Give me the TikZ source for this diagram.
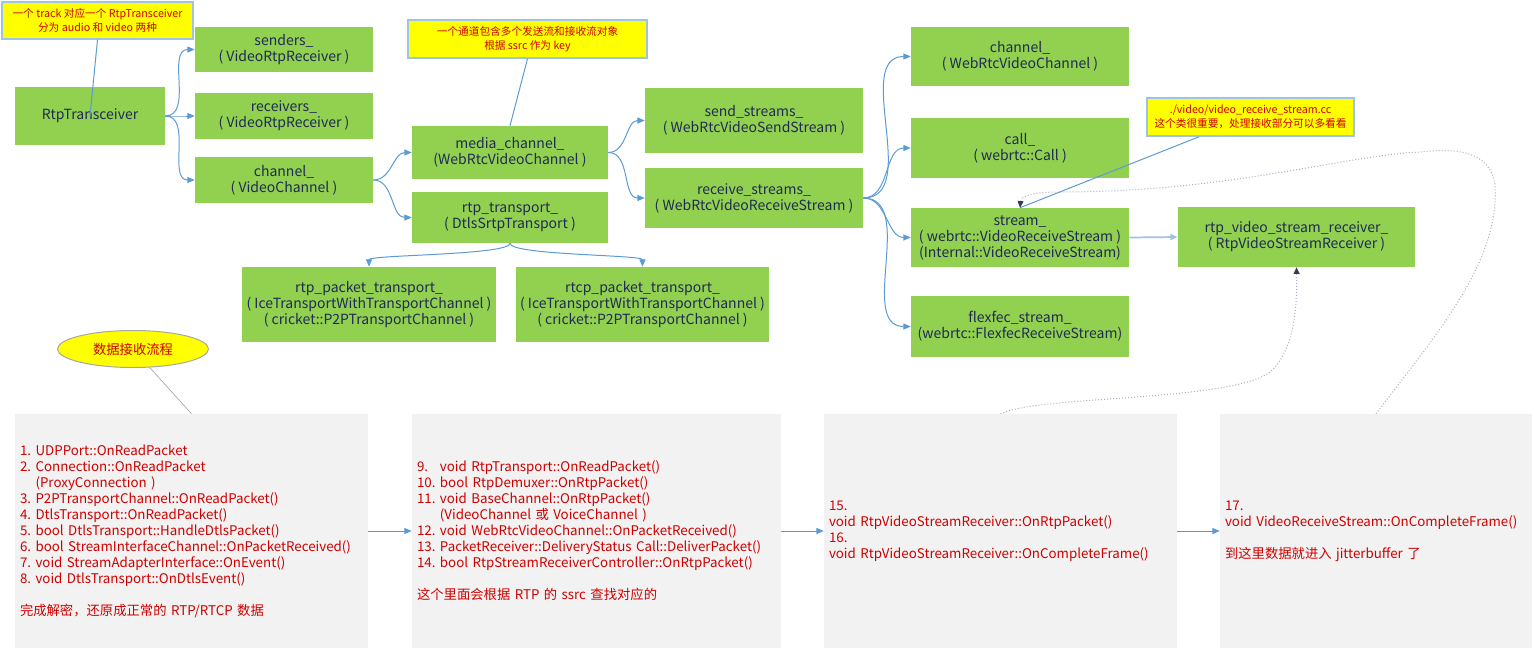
\documentclass[tikz,border=0pt]{standalone}
\usepackage{fontspec}
\setmainfont{Noto Sans CJK SC}
\usepackage{xcolor}
\usetikzlibrary{arrows.meta, shapes.geometric}
\frenchspacing

\definecolor{boxgreen}{HTML}{92D050}
\definecolor{boxtext}{HTML}{1F2A55}
\definecolor{noteyellow}{HTML}{FFFF00}
\definecolor{noteedge}{HTML}{9DC3E6}
\definecolor{notered}{HTML}{D00000}
\definecolor{flowgrey}{HTML}{F2F2F2}
\definecolor{linkblue}{HTML}{5B9BD5}
\definecolor{linklight}{HTML}{9DC3E6}
\definecolor{hintgrey}{HTML}{A8AFC6}
\definecolor{hintdark}{HTML}{3A3A50}
\definecolor{edgegrey}{HTML}{A6A6A6}

\begin{document}
\begin{tikzpicture}[x=0.75pt, y=-0.75pt,
    every node/.style={inner sep=0pt, font=\fontsize{10}{12}\selectfont},
    gbox/.style={fill=boxgreen, text=boxtext, align=center, font=\fontsize{10.5}{12}\selectfont},
    note/.style={fill=noteyellow, draw=noteedge, line width=1.1pt, text=notered, align=center, font=\fontsize{8}{10.5}\selectfont},
    flowbox/.style={fill=flowgrey, text=notered, align=left, inner xsep=3.75pt, minimum height=175.5pt},
    link/.style={draw=linkblue, line width=0.75pt, -{Triangle[length=5.5pt,width=4.5pt]}},
    hint/.style={draw=hintgrey, line width=0.75pt, dash pattern=on 0.75pt off 1.5pt, -{Triangle[length=5pt,width=4.5pt,color=hintdark]}}]
    \useasboundingbox (0,0) rectangle (1534,650);

    % object tree
    \node[gbox, minimum width=112.5pt, minimum height=43.5pt] (trx) at (90,116) {RtpTransceiver};
    \node[gbox, minimum width=133.5pt, minimum height=34pt] (senders) at (284,49.5) {senders\_\\( VideoRtpReceiver )};
    \node[gbox, minimum width=133.5pt, minimum height=34.5pt] (receivers) at (284,116) {receivers\_\\( VideoRtpReceiver )};
    \node[gbox, minimum width=133.5pt, minimum height=34.5pt] (vchan) at (284,180) {channel\_\\( VideoChannel )};
    \node[gbox, minimum width=147pt, minimum height=39.75pt] (media) at (510,152.5) {media\_channel\_\\(WebRtcVideoChannel )};
    \node[gbox, minimum width=147pt, minimum height=38.25pt] (rtpt) at (510,217.5) {rtp\_transport\_\\( DtlsSrtpTransport )};
    \node[gbox, minimum width=163.5pt, minimum height=48.75pt] (sendst) at (754,120.5) {send\_streams\_\\( WebRtcVideoSendStream )};
    \node[gbox, minimum width=163.5pt, minimum height=45pt] (recvst) at (754,198) {receive\_streams\_\\( WebRtcVideoReceiveStream )};
    \node[gbox, minimum width=190.5pt, minimum height=56.25pt] (rtppkt) at (369,304.5) {rtp\_packet\_transport\_\\( IceTransportWithTransportChannel )\\( cricket::P2PTransportChannel )};
    \node[gbox, minimum width=190pt, minimum height=56.25pt] (rtcppkt) at (642.5,304.5) {rtcp\_packet\_transport\_\\( IceTransportWithTransportChannel )\\( cricket::P2PTransportChannel )};
    \node[gbox, minimum width=163.5pt, minimum height=44.25pt] (wchan) at (1020,56.5) {channel\_\\( WebRtcVideoChannel )};
    \node[gbox, minimum width=163.5pt, minimum height=45pt] (call) at (1020,148) {call\_\\( webrtc::Call )};
    \node[gbox, minimum width=163.5pt, minimum height=44.25pt] (stream) at (1020,237.5) {stream\_\\( webrtc::VideoReceiveStream )\\(Internal::VideoReceiveStream)};
    \node[gbox, minimum width=163.5pt, minimum height=45.75pt] (flex) at (1020,326.5) {flexfec\_stream\_\\(webrtc::FlexfecReceiveStream)};
    \node[gbox, minimum width=177.75pt, minimum height=45pt] (rvsr) at (1296.5,237) {rtp\_video\_stream\_receiver\_\\( RtpVideoStreamReceiver )};

    % notes
    \node[note, minimum width=143.25pt, minimum height=27.75pt] (n1) at (97.5,20.5) {一个 track 对应一个 RtpTransceiver\\分为 audio 和 video 两种};
    \node[note, minimum width=179.25pt, minimum height=28.5pt] (n2) at (527.5,39) {一个通道包含多个发送流和接收流对象\\根据 ssrc 作为 key};
    \node[note, minimum width=155.25pt, minimum height=28.5pt] (n3) at (1250.5,117) {./video/video\_receive\_stream.cc\\这个类很重要，处理接收部分可以多看看};
    \node[ellipse, fill=noteyellow, draw=edgegrey, line width=0.75pt, text=notered, minimum width=113.25pt, minimum height=27.75pt, font=\fontsize{10}{12}\selectfont] (title) at (133,349) {数据接收流程};

    % receive flow
    \node[flowbox, minimum width=264.75pt, text width=257.25pt] (g1) at (191.5,531) {1. UDPPort::OnReadPacket\\2. Connection::OnReadPacket\\\hphantom{2.} (ProxyConnection )\\3. P2PTransportChannel::OnReadPacket()\\4. DtlsTransport::OnReadPacket()\\5. bool DtlsTransport::HandleDtlsPacket()\\6. bool StreamInterfaceChannel::OnPacketReceived()\\7. void StreamAdapterInterface::OnEvent()\\8. void DtlsTransport::OnDtlsEvent()\\[12pt]完成解密，还原成正常的 RTP/RTCP 数据};
    \node[flowbox, minimum width=276.75pt, text width=269.25pt] (g2) at (596.5,531) {9.\hphantom{0} void RtpTransport::OnReadPacket()\\10. bool RtpDemuxer::OnRtpPacket()\\11. void BaseChannel::OnRtpPacket()\\\hphantom{11.} (VideoChannel 或 VoiceChannel )\\12. void WebRtcVideoChannel::OnPacketReceived()\\13. PacketReceiver::DeliveryStatus Call::DeliverPacket()\\14. bool RtpStreamReceiverController::OnRtpPacket()\\[12pt]这个里面会根据 RTP 的 ssrc 查找对应的};
    \node[flowbox, minimum width=264.75pt, text width=257.25pt] (g3) at (1000.5,531) {15.\\void RtpVideoStreamReceiver::OnRtpPacket()\\16.\\void RtpVideoStreamReceiver::OnCompleteFrame()};
    \node[flowbox, minimum width=234pt, text width=226.5pt] (g4) at (1376,531) {17.\\void VideoReceiveStream::OnCompleteFrame()\\[12pt]到这里数据就进入 jitterbuffer 了};

    % connectors
    \foreach \dst in {senders,receivers,vchan}
        \draw[link] (trx.east) to[out=0,in=180] (\dst.west);
    \foreach \dst in {media,rtpt}
        \draw[link] (vchan.east) to[out=0,in=180] (\dst.west);
    \foreach \dst in {sendst,recvst}
        \draw[link] (media.east) to[out=0,in=180] (\dst.west);
    \foreach \dst in {wchan,call,stream,flex}
        \draw[link] (recvst.east) to[out=0,in=180] (\dst.west);
    \foreach \dst in {rtppkt,rtcppkt}
        \draw[link] (rtpt.south) .. controls +(0,12) and +(0,-12) .. (\dst.north);
    \draw[link, draw=linklight, line width=1.3pt] (stream.east) -- (rvsr.west);
    \foreach \a/\b in {g1/g2,g2/g3,g3/g4}
        \draw[link] (\a.east) -- (\b.west);

    % note lines
    \draw[linkblue, line width=0.75pt] (n1.south) -- (trx.center);
    \draw[linkblue, line width=0.75pt] (n2.south) -- (media.north);
    \draw[linkblue, line width=0.75pt] (n3.201) -- (stream.north);
    \draw[edgegrey, line width=0.5pt] (title) -- (g1.north);

    % dotted hints
    \draw[hint] (g4.north) .. controls (1440,330) and (1500,260) .. (1495,185) .. controls (1490,150) and (1455,148) .. (1420,152) .. controls (1340,156) and (1230,192) .. (1060,192) .. controls (1032,192) and (1021,196) .. (stream.north);
    \draw[hint] (g3.north) .. controls (1040,395) and (1230,402) .. (1270,372) .. controls (1296,350) and (1297,300) .. (rvsr.south);
\end{tikzpicture}
\end{document}
